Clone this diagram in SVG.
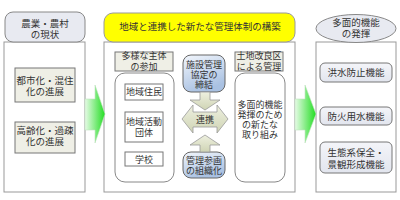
<svg xmlns="http://www.w3.org/2000/svg" width="400" height="200" viewBox="0 0 400 200">
<defs>
<linearGradient id="gGreen" x1="0" y1="0" x2="1" y2="0">
<stop offset="0" stop-color="#e6fbe6"/>
<stop offset="1" stop-color="#22dd22"/>
</linearGradient>
<linearGradient id="gBlue" x1="0" y1="0" x2="0.4" y2="1">
<stop offset="0" stop-color="#f2f6fc"/>
<stop offset="1" stop-color="#a9c1e2"/>
</linearGradient>
<linearGradient id="gOlive" x1="0" y1="0" x2="0" y2="1">
<stop offset="0" stop-color="#eef0e0"/>
<stop offset="1" stop-color="#cfd4b4"/>
</linearGradient>
<linearGradient id="gGrayBlue" x1="0" y1="0" x2="0" y2="1">
<stop offset="0" stop-color="#f4f5f9"/>
<stop offset="1" stop-color="#e2e5ee"/>
</linearGradient>
</defs>
<style>
text{font-family:"Liberation Sans","Noto Sans CJK JP",sans-serif;font-size:9.5px;fill:#333;text-anchor:middle}
.s{font-size:9px}
.frame{fill:#fff;stroke:#999;stroke-width:1}
.hdr{fill:#e8eaf1;stroke:#888;stroke-width:1}
.yel{fill:#ffff00;stroke:#999;stroke-width:1}
.beige{fill:#efefe6;stroke:#777;stroke-width:1}
.wbox{fill:#fff;stroke:#777;stroke-width:1}
.cont{fill:#fff;stroke:#888;stroke-width:1}
.blue{fill:url(#gBlue);stroke:#666;stroke-width:1}
.gb{fill:url(#gGrayBlue);stroke:#777;stroke-width:1}
.olive{fill:url(#gOlive);stroke:#999;stroke-width:0.8}
.green{fill:url(#gGreen);stroke:#bfe0bf;stroke-width:0.6}
</style>

<g id="left-panel">
<rect class="frame" x="4" y="42" width="81" height="150"/>
<rect class="hdr" x="5" y="12" width="80" height="30" rx="8"/>
<text x="45" y="26.5">農業・農村<tspan x="45" dy="11">の現状</tspan></text>
</g>
<g id="node-toshika">
<rect class="beige" x="15" y="68" width="60" height="34"/>
<text x="45" y="83.5">都市化・混住<tspan x="45" dy="11.5">化の進展</tspan></text>
</g>
<g id="node-koreika">
<rect class="beige" x="15" y="122" width="60" height="31"/>
<text x="45" y="133.5">高齢化・過疎<tspan x="45" dy="11.5">化の進展</tspan></text>
</g>

<g id="center-panel">
<rect class="frame" x="104" y="42" width="191" height="150"/>
<rect class="yel" x="104" y="13" width="191" height="29" rx="9"/>
<text x="200" y="30">地域と連携した新たな管理体制の構築</text>
</g>
<g id="node-tayo">
<rect class="beige" x="115" y="52" width="58" height="19"/>
<text class="s" x="144" y="58.5">多様な主体<tspan x="144" dy="11">の参加</tspan></text>
<rect class="cont" x="115" y="73" width="59" height="109" rx="10"/>
</g>
<g id="node-jumin">
<rect class="wbox" x="125" y="84" width="38" height="16"/>
<text class="s" x="144" y="95">地域住民</text>
</g>
<g id="node-dantai">
<rect class="wbox" x="125" y="112" width="38" height="30"/>
<text class="s" x="144" y="125">地域活動<tspan x="144" dy="11">団体</tspan></text>
</g>
<g id="node-gakko">
<rect class="wbox" x="125" y="152" width="38" height="14"/>
<text class="s" x="144" y="162.5">学校</text>
</g>
<g id="node-kyotei">
<rect class="blue" x="183" y="55" width="42" height="37" rx="8"/>
<text class="s" x="204" y="68">施設管理<tspan x="204" dy="10">協定の</tspan><tspan x="204" dy="10">締結</tspan></text>
</g>
<g id="node-renkei">
<path class="olive" d="M182,119 L193,105 L193,112 L217,112 L217,105 L228,119 L217,133 L217,127 L193,127 L193,133 Z"/>
<text class="s" x="205" y="122.5">連携</text>
</g>
<g id="node-soshiki">
<rect class="blue" x="183" y="152" width="42" height="26" rx="8"/>
<text class="s" x="204" y="163.5">管理参画<tspan x="204" dy="10.5">の組織化</tspan></text>
</g>
<g id="node-tochi">
<rect class="beige" x="235" y="52" width="48" height="19"/>
<text class="s" x="259" y="58.5">土地改良区<tspan x="259" dy="11">による管理</tspan></text>
<rect class="cont" x="235" y="73" width="50" height="109" rx="10"/>
<text class="s" x="260" y="108">多面的機能<tspan x="260" dy="10">発揮のため</tspan><tspan x="260" dy="10">の新たな</tspan><tspan x="260" dy="10">取り組み</tspan></text>
</g>

<g id="right-panel">
<rect class="frame" x="316" y="42" width="80" height="150"/>
<ellipse class="hdr" cx="356" cy="28.5" rx="40" ry="14"/>
<text x="356" y="25.5">多面的機能<tspan x="356" dy="11.5">の発揮</tspan></text>
</g>
<g id="node-kozui">
<rect class="gb" x="320" y="63" width="72" height="19" rx="5"/>
<text x="356" y="76">洪水防止機能</text>
</g>
<g id="node-boka">
<rect class="gb" x="320" y="107" width="72" height="18" rx="5"/>
<text x="356" y="119.5">防火用水機能</text>
</g>
<g id="node-seitai">
<rect class="gb" x="320" y="142" width="72" height="31" rx="5"/>
<text x="356" y="155.5">生態系保全・<tspan x="356" dy="12">景観形成機能</tspan></text>
</g>

<g id="connectors">
<path class="green" d="M85,99 L95,99 L95,85 L105,114 L95,143 L95,130 L85,130 Z"/>
<path class="green" d="M295,99 L305,99 L305,85 L316,114 L305,143 L305,130 L295,130 Z"/>
<path class="olive" d="M200,92 L210,92 L210,100 L220,100 L205,110 L190,100 L200,100 Z"/>
<path class="olive" d="M205,135 L220,145 L210,145 L210,152 L200,152 L200,145 L190,145 Z"/>
</g>
</svg>
